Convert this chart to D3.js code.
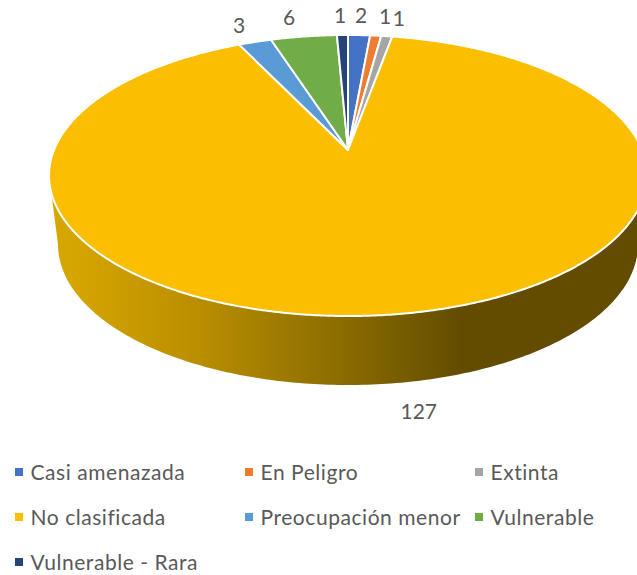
<!DOCTYPE html>
<html><head><meta charset="utf-8">
<script src="https://cdn.jsdelivr.net/npm/d3@7"></script>
<style>html,body{margin:0;padding:0;background:#fff;overflow:hidden}text{font-family:Lato,"Open Sans",sans-serif;fill:#595959}</style>
</head><body><svg id="c" width="637" height="575"></svg>
<script>
const categories = ["Casi amenazada","En Peligro","Extinta","No clasificada","Preocupación menor","Vulnerable","Vulnerable - Rara"];
const values = [2,1,1,127,3,6,1];
const colors = ["#4472c4","#ed7d31","#a5a5a5","#fcbe00","#5b9bd5","#70ad47","#264478"];
const labelNudges = [[1,-2],[7,-2],[9,-1],[17,84],[-8,0],[-11,-2],[-2,-2]];
const legendCols = [15,245,475];
const legendRows = [473,518,563];
const sideStops = [[0,"#d8a800"],[0.084,"#d0a000"],[0.25,"#b98e00"],[0.5,"#886a00"],[0.69,"#634c00"],[1,"#634c00"]];

const svg=d3.select("#c");
const apex={x:348,y:150}, persp=0.1815, scaleX=294, scaleY=135.9, depth=69, depthShrink=290/299;
function project(a,r=1){ // a: clockwise from top
  const X=r*Math.sin(a),Y=r*Math.cos(a),w=1+persp*Y;
  return [apex.x+scaleX*X/w, apex.y-scaleY*Y/w];
}
function projectBottom(a){
  const p=project(a);
  return [apex.x+(p[0]-apex.x)*depthShrink, p[1]+depth];
}
const pie=d3.pie().sort(null).value(d=>d)(values);
const line=d3.line();
const grad=svg.append("defs").append("linearGradient").attr("id","side").attr("gradientUnits","userSpaceOnUse")
  .attr("x1",50).attr("x2",646).attr("y1",0).attr("y2",0);
sideStops.forEach(s=>grad.append("stop").attr("offset",s[0]).attr("stop-color",s[1]));

function angles(a0,a1,n){return d3.range(n+1).map(i=>a0+(a1-a0)*i/n);}
// side wall between the widest points of the rim
const widest=Math.acos(-persp);
const front=angles(widest,2*Math.PI-widest,200);
const wall=front.map(a=>project(a)).concat(front.slice().reverse().map(projectBottom));
svg.append("path").attr("d",line(wall)+"Z").attr("fill","url(#side)");

svg.selectAll("path.slice").data(pie).join("path").attr("class","slice")
  .attr("d",d=>{
    const n=Math.max(4,Math.ceil((d.endAngle-d.startAngle)*120));
    return line([[apex.x,apex.y]].concat(angles(d.startAngle,d.endAngle,n).map(a=>project(a))))+"Z";
  })
  .attr("fill",(d,i)=>colors[i]).attr("stroke","#fff").attr("stroke-width",2).attr("stroke-linejoin","round");

svg.selectAll("text.lab").data(pie).join("text").attr("class","lab")
  .attr("text-anchor","middle").attr("font-size",21)
  .attr("x",(d,i)=>project((d.startAngle+d.endAngle)/2,1.1)[0]+labelNudges[i][0])
  .attr("y",(d,i)=>project((d.startAngle+d.endAngle)/2,1.1)[1]+labelNudges[i][1])
  .text(d=>d.value);

const lg=svg.selectAll("g.lg").data(categories).join("g").attr("class","lg")
  .attr("transform",(d,i)=>`translate(${legendCols[i%3]},${legendRows[Math.floor(i/3)]})`);
lg.append("rect").attr("x",0).attr("y",-5).attr("width",8).attr("height",8).attr("fill",(d,i)=>colors[i]);
lg.append("text").attr("x",15.5).attr("y",7).attr("font-size",21).attr("letter-spacing",0.55).text(d=>d);
</script></body></html>
